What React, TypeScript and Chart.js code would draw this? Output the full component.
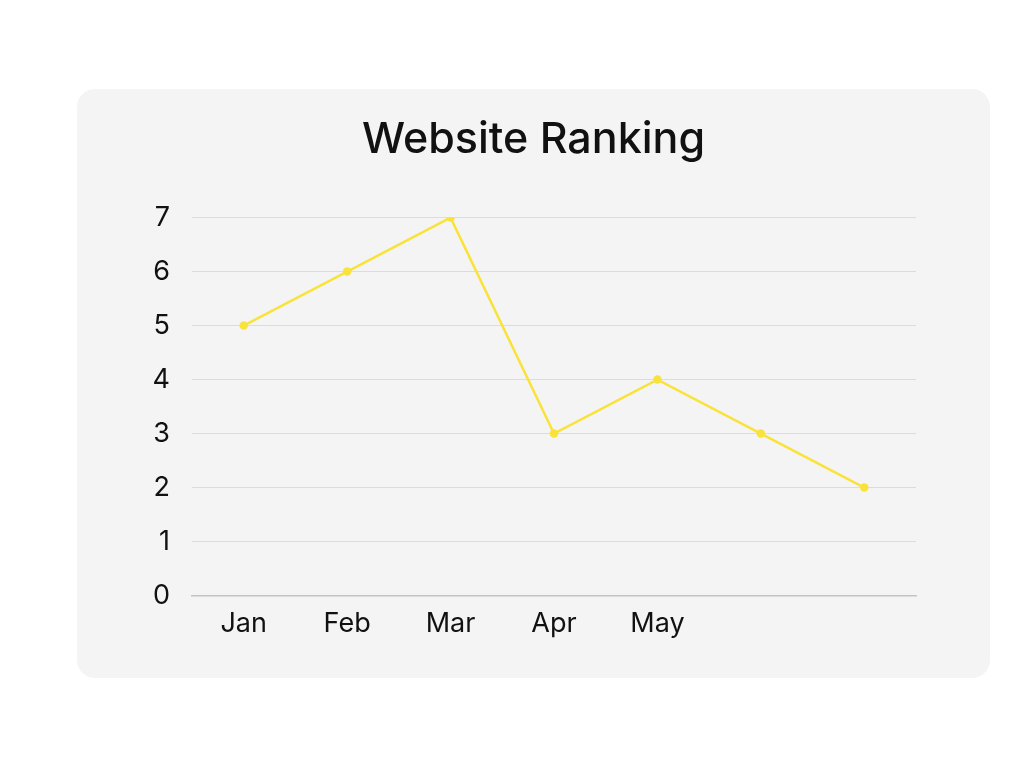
import React, { useEffect, useRef } from "react";
import { Chart, registerables } from "chart.js";

Chart.register(...registerables);

const categories = ["Jan", "Feb", "Mar", "Apr", "May", "", ""];
const rankingValues = [5, 6, 7, 3, 4, 3, 2];
const chartTitle = "Website Ranking";

export default function App() {
  const canvasRef = useRef<HTMLCanvasElement | null>(null);

  useEffect(() => {
    if (!canvasRef.current) return;
    const chart = new Chart(canvasRef.current, {
      type: "line",
      data: {
        labels: categories,
        datasets: [
          {
            label: "Ranking",
            data: rankingValues,
            borderColor: "#F9E33B",
            backgroundColor: "#F9E33B",
            borderWidth: 2.5,
            pointRadius: 3,
            pointHoverRadius: 3,
            tension: 0,
          },
        ],
      },
      options: {
        animation: false,
        responsive: true,
        maintainAspectRatio: false,
        layout: { padding: { left: 74, right: 74, top: 0, bottom: 26 } },
        plugins: {
          legend: { display: false },
          tooltip: { enabled: false },
          title: {
            display: true,
            text: chartTitle,
            color: "#111111",
            font: { family: "Inter", size: 43, weight: 500, lineHeight: 1.2 },
            padding: { top: 25, bottom: 52 },
          },
        },
        scales: {
          x: {
            offset: true,
            grid: { display: false, drawTicks: false },
            border: { display: true, color: "#c4c4c4", width: 1.5 },
            ticks: {
              color: "#111111",
              padding: 12,
              font: { family: "Inter", size: 27, lineHeight: 1.2 },
              autoSkip: false,
              maxRotation: 0,
            },
          },
          y: {
            min: 0,
            max: 7,
            grid: { color: "#dcdcdc", drawTicks: false, lineWidth: 1 },
            border: { display: false },
            ticks: {
              stepSize: 1,
              color: "#111111",
              padding: 22,
              font: { family: "Inter", size: 27, lineHeight: 1.2 },
            },
            afterFit: (scale: any) => {
              scale.width = 41;
            },
          },
        },
      },
    });
    return () => chart.destroy();
  }, []);

  return (
    <div
      style={{
        position: "absolute",
        left: 77,
        top: 89,
        width: 913,
        height: 589,
        background: "#f4f4f4",
        borderRadius: 18,
      }}
    >
      <canvas ref={canvasRef} />
    </div>
  );
}
